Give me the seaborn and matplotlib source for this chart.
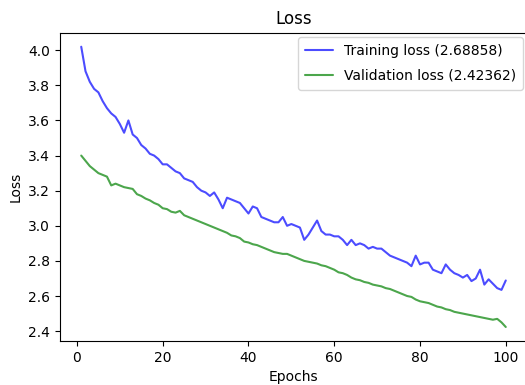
import matplotlib
matplotlib.use("Agg")
import matplotlib.pyplot as plt
import seaborn as sns
import pandas as pd

epochs = list(range(1, 101))
train_loss = [
    4.02, 3.88, 3.82, 3.78, 3.76, 3.71, 3.67, 3.64, 3.62, 3.58,
    3.53, 3.60, 3.52, 3.50, 3.46, 3.44, 3.41, 3.40, 3.38, 3.35,
    3.35, 3.33, 3.31, 3.30, 3.27, 3.26, 3.25, 3.22, 3.20, 3.19,
    3.17, 3.19, 3.15, 3.10, 3.16, 3.15, 3.14, 3.13, 3.10, 3.07,
    3.11, 3.10, 3.05, 3.04, 3.03, 3.02, 3.02, 3.05, 3.00, 3.01,
    3.00, 2.99, 2.92, 2.95, 2.99, 3.03, 2.97, 2.95, 2.95, 2.94,
    2.94, 2.92, 2.89, 2.92, 2.89, 2.90, 2.89, 2.87, 2.88, 2.87,
    2.87, 2.85, 2.83, 2.82, 2.81, 2.80, 2.79, 2.77, 2.83, 2.78,
    2.79, 2.79, 2.75, 2.74, 2.73, 2.78, 2.75, 2.73, 2.72, 2.705,
    2.72, 2.685, 2.70, 2.75, 2.665, 2.695, 2.67, 2.645, 2.635, 2.68858,
]
val_loss = [
    3.40, 3.37, 3.34, 3.32, 3.30, 3.29, 3.28, 3.23, 3.24, 3.23,
    3.22, 3.215, 3.21, 3.18, 3.17, 3.155, 3.145, 3.13, 3.12, 3.10,
    3.095, 3.08, 3.075, 3.085, 3.06, 3.05, 3.04, 3.03, 3.02, 3.01,
    3.00, 2.99, 2.98, 2.97, 2.96, 2.945, 2.94, 2.93, 2.91, 2.905,
    2.895, 2.89, 2.88, 2.87, 2.86, 2.85, 2.845, 2.84, 2.84, 2.83,
    2.82, 2.81, 2.80, 2.795, 2.79, 2.785, 2.775, 2.77, 2.76, 2.75,
    2.735, 2.73, 2.72, 2.705, 2.695, 2.69, 2.68, 2.675, 2.665, 2.66,
    2.655, 2.645, 2.64, 2.63, 2.62, 2.61, 2.60, 2.595, 2.58, 2.57,
    2.565, 2.56, 2.55, 2.54, 2.535, 2.525, 2.52, 2.51, 2.505, 2.50,
    2.495, 2.49, 2.485, 2.48, 2.475, 2.47, 2.465, 2.47, 2.45, 2.42362,
]
train_label = "Training loss (2.68858)"
val_label = "Validation loss (2.42362)"
title = "Loss"
xlabel = "Epochs"
ylabel = "Loss"

sns.set_style("ticks")
plt.rcParams["font.family"] = ["DejaVu Sans"]
plt.rcParams["axes.edgecolor"] = "black"
plt.rcParams["xtick.color"] = "black"
plt.rcParams["ytick.color"] = "black"
plt.rcParams["text.color"] = "black"
plt.rcParams["axes.labelcolor"] = "black"

df = pd.DataFrame({"epoch": epochs, "train": train_loss, "val": val_loss})

fig = plt.figure(figsize=(5.25, 3.85), dpi=100)
ax = fig.add_axes([60 / 525, 44 / 385, 467 / 525, 308.3 / 385])
sns.lineplot(data=df, x="epoch", y="train", ax=ax, color="blue", alpha=0.7,
             linewidth=1.5, label=train_label)
sns.lineplot(data=df, x="epoch", y="val", ax=ax, color="green", alpha=0.7,
             linewidth=1.5, label=val_label)
ax.set_title(title, fontsize=12)
ax.set_xlabel(xlabel, fontsize=10)
ax.set_ylabel(ylabel, fontsize=10)
ax.tick_params(labelsize=10)
ax.set_xticks([0, 20, 40, 60, 80, 100])
ax.legend(loc="upper right", fontsize=10, frameon=True, labelspacing=0.8,
          borderaxespad=0.3, borderpad=0.5)
fig.savefig("out.png", dpi=100)
